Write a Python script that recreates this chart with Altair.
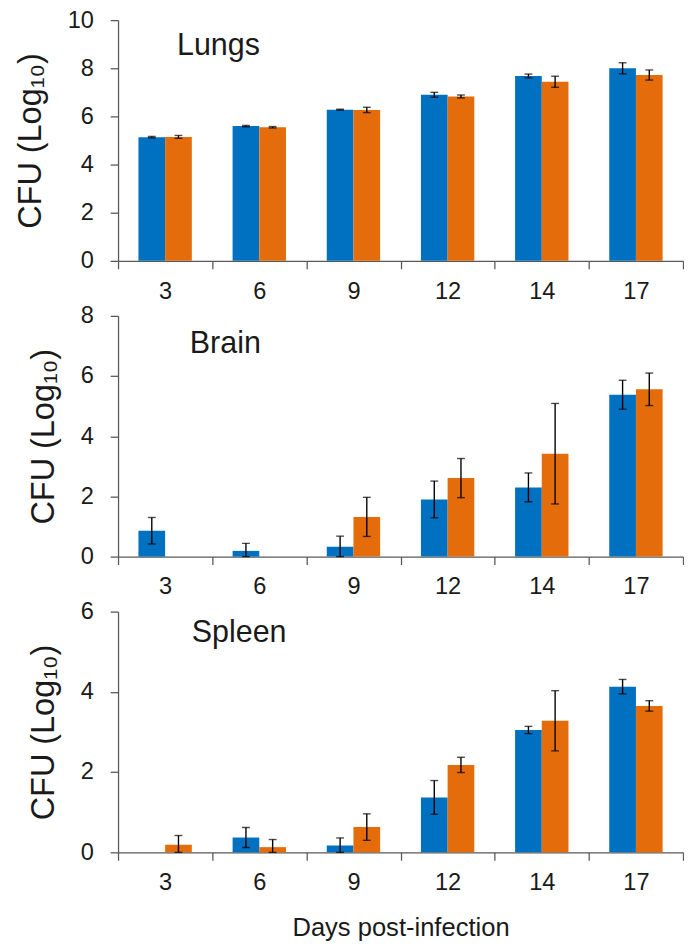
import altair as alt
import pandas as pd

days = ["3", "6", "9", "12", "14", "17"]
series = ["Series 1", "Series 2"]
colors = ["#0070C0", "#E46C0A"]

lungs_s1 = [5.14, 5.60, 6.28, 6.90, 7.68, 8.00]
lungs_s1_err = [0.03, 0.03, 0.02, 0.10, 0.08, 0.23]
lungs_s2 = [5.15, 5.55, 6.27, 6.83, 7.44, 7.72]
lungs_s2_err = [0.06, 0.03, 0.11, 0.06, 0.23, 0.21]

brain_s1 = [0.86, 0.19, 0.33, 1.90, 2.30, 5.38]
brain_s1_err = [0.44, 0.25, 0.35, 0.61, 0.48, 0.48]
brain_s2 = [0.0, 0.0, 1.32, 2.61, 3.42, 5.56]
brain_s2_err = [0.0, 0.0, 0.65, 0.65, 1.67, 0.54]

spleen_s1 = [0.0, 0.37, 0.17, 1.37, 3.05, 4.13]
spleen_s1_err = [0.0, 0.25, 0.19, 0.42, 0.09, 0.18]
spleen_s2 = [0.19, 0.13, 0.63, 2.18, 3.28, 3.65]
spleen_s2_err = [0.23, 0.19, 0.33, 0.19, 0.75, 0.13]

FONT = "Liberation Sans"
W, H = 575, 245


def panel(name, s1, e1, s2, e2, ymax, lx, ly, xtitle=None):
    rows = []
    for i, d in enumerate(days):
        for s, v, e in ((series[0], s1[i], e1[i]), (series[1], s2[i], e2[i])):
            rows.append({"day": d, "series": s, "value": v,
                         "lo": max(0.0, v - e), "hi": v + e, "err": e})
    df = pd.DataFrame(rows)
    xaxis = alt.Axis(labelAngle=0, tickBand="extent", labelPadding=11,
                     title=xtitle if xtitle else "", titlePadding=21)
    x = alt.X("day:N", sort=days,
              scale=alt.Scale(paddingInner=0, paddingOuter=0), axis=xaxis)
    xo = alt.XOffset("series:N", sort=series,
                     scale=alt.Scale(paddingOuter=0.764, paddingInner=0))
    y = alt.Y("value:Q", scale=alt.Scale(domain=[0, ymax]),
              axis=alt.Axis(values=list(range(0, ymax + 1, 2)),
                            title="CFU (Log₁₀)"))
    base = alt.Chart(df)
    bars = base.mark_bar().encode(
        x=x, xOffset=xo, y=y,
        color=alt.Color("series:N", sort=series,
                        scale=alt.Scale(domain=series, range=colors),
                        legend=None),
    )
    eb = base.transform_filter("datum.err > 0")
    rule = eb.mark_rule(color="black", strokeWidth=1.4).encode(
        x=x, xOffset=xo, y="lo:Q", y2="hi:Q")
    cap_hi = eb.mark_tick(color="black", thickness=1.4, size=8,
                          orient="horizontal").encode(x=x, xOffset=xo, y="hi:Q")
    cap_lo = eb.mark_tick(color="black", thickness=1.4, size=8,
                          orient="horizontal").encode(x=x, xOffset=xo, y="lo:Q")
    label = alt.Chart(pd.DataFrame({"t": [name]})).mark_text(
        font=FONT, fontSize=31, align="left", baseline="alphabetic",
        color="#1a1a1a").encode(text="t:N", x=alt.value(lx), y=alt.value(ly))
    return alt.layer(bars, rule, cap_hi, cap_lo, label).properties(width=W, height=H)


p1 = panel("Lungs", lungs_s1, lungs_s1_err, lungs_s2, lungs_s2_err, 10, 60, 35)
p2 = panel("Brain", brain_s1, brain_s1_err, brain_s2, brain_s2_err, 8, 73, 38)
p3 = panel("Spleen", spleen_s1, spleen_s1_err, spleen_s2, spleen_s2_err, 6, 75, 31,
           xtitle="Days post-infection")

chart = alt.vconcat(p1, p2, p3, spacing=1).properties(
    padding={"left": 7, "top": -8, "right": 0, "bottom": 0}
).configure_view(strokeWidth=0).configure_axis(
    labelFont=FONT, labelFontSize=24, labelColor="#1a1a1a",
    titleFont=FONT, titleFontWeight="normal", titleColor="#1a1a1a",
    domainColor="#595959", tickColor="#595959", domainWidth=1.3, tickWidth=1.3,
    tickSize=8, grid=False,
).configure_axisY(labelPadding=17, titlePadding=20, titleFontSize=33
).configure_axisX(titleFontSize=26)

chart.save("out.html", embed_options={"renderer": "svg", "actions": False})
